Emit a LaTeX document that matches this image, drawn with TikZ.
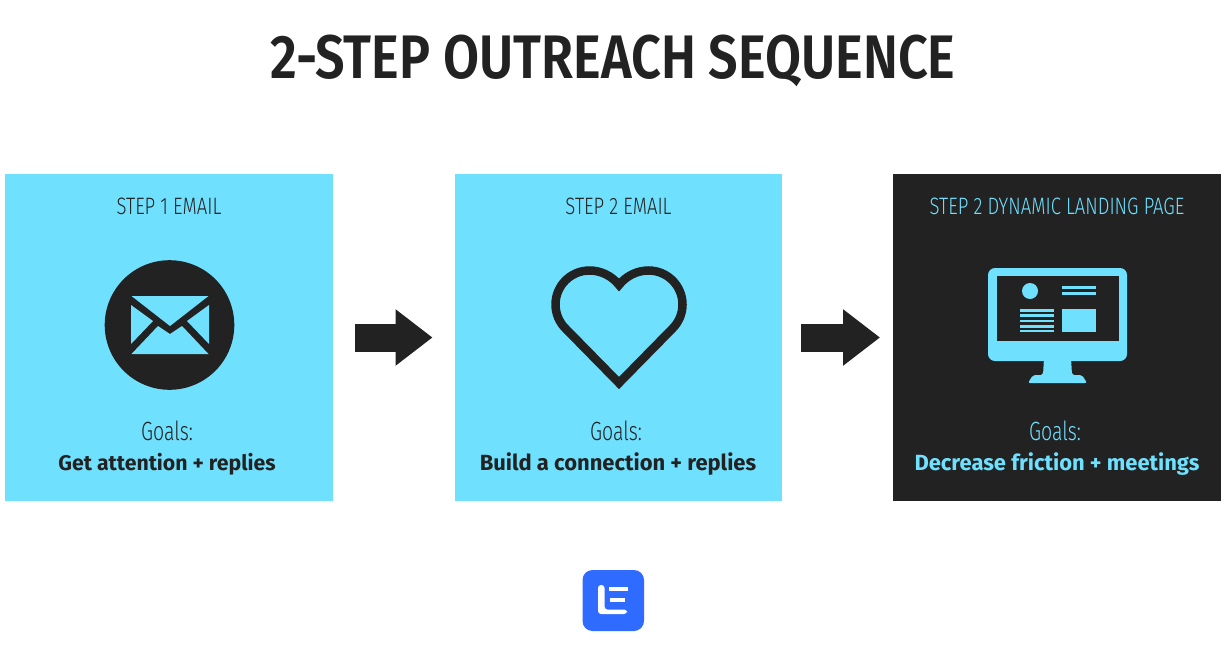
\documentclass[tikz,border=0pt]{standalone}
\usepackage{fontspec}
\setmainfont{Fira Sans}
\newfontfamily\lightfont[FakeStretch=0.78]{Fira Sans Light}
\newfontfamily\goalfont[FakeStretch=0.74]{Fira Sans Light}
\newfontfamily\titlefont[FakeStretch=0.85]{Fira Sans SemiBold}
\usetikzlibrary{arrows.meta,positioning}
\definecolor{skyfill}{HTML}{6FE1FF}
\definecolor{inkdark}{HTML}{222222}
\definecolor{logoblue}{HTML}{2F6BFF}
\tikzset{
	stepbox/.style={minimum size=6.56cm, inner sep=0pt, outer sep=0pt, fill=skyfill, text=inkdark},
	darkbox/.style={stepbox, fill=inkdark, text=skyfill},
	steplabel/.style={font=\lightfont\fontsize{13.5}{16}\selectfont, inner sep=0pt, anchor=center},
	goalhead/.style={font=\goalfont\fontsize{15}{18}\selectfont, inner sep=0pt, anchor=center},
	goallabel/.style={font=\bfseries\fontsize{12.5}{15}\selectfont, inner sep=0pt, anchor=center},
	blockarrow/.style={line width=0.56cm, inkdark, -{Triangle[length=0.74cm, width=1.08cm]}},
}
\begin{document}
\begin{tikzpicture}[x=0.02cm, y=-0.02cm]
	\useasboundingbox (0,0) rectangle (1226,649);

	\node[font=\titlefont\fontsize{35}{40}\selectfont, text=inkdark, inner sep=0pt] (title) at (613,61) {2-STEP OUTREACH SEQUENCE};

	% the three boxes
	\node[stepbox] (emailbox) at (169,337.5) {};
	\node[stepbox] (heartbox) at (618.5,337.5) {};
	\node[darkbox] (pagebox) at (1057,337.5) {};

	\draw[blockarrow, shorten <=0.44cm, shorten >=0.44cm] (emailbox) -- (heartbox);
	\draw[blockarrow, shorten <=0.38cm, shorten >=0.26cm] (heartbox) -- (pagebox);

	\node[steplabel, text=inkdark] (emailstep) at (169,206) {STEP 1 EMAIL};
	\node[steplabel, text=inkdark] (heartstep) at (618.5,206) {STEP 2 EMAIL};
	\node[steplabel, text=skyfill] (pagestep) at (1057,206) {STEP 2 DYNAMIC LANDING PAGE};

	\node[goalhead, text=inkdark] (emailgoal) at (167,431) {Goals:};
	\node[goalhead, text=inkdark] (heartgoal) at (616,431) {Goals:};
	\node[goalhead, text=skyfill] (pagegoal) at (1055,431) {Goals:};

	\node[goallabel, text=inkdark, font=\bfseries\fontsize{12.1}{15}\selectfont] (emailtext) at (167,464) {Get attention + replies};
	\node[goallabel, text=inkdark] (hearttext) at (618,464) {Build a connection + replies};
	\node[goallabel, text=skyfill] (pagetext) at (1057,464) {Decrease friction + meetings};

	% envelope in a disc
	\fill[inkdark] (169.5,325) circle (64.8);
	\fill[skyfill] (131.5,296) -- (208.5,296) -- (170,326) -- cycle;
	\fill[skyfill] (131,305) -- (153,321) -- (131,344) -- cycle;
	\fill[skyfill] (209,305) -- (187,321) -- (209,344) -- cycle;
	\fill[skyfill] (131.5,354) -- (158,326) -- (170,334) -- (182,326) -- (208.5,354) -- cycle;

	% heart outline
	\draw[inkdark, line width=0.17cm, miter limit=10]
		(619,383) -- (565.5,328.5)
		.. controls (559.4,322.4) and (555.5,313.9) .. (555.5,304.5)
		.. controls (555.5,285.7) and (570.7,270.5) .. (589.5,270.5)
		.. controls (601,270.5) and (612,276) .. (619,285)
		.. controls (626,276) and (637,270.5) .. (648.5,270.5)
		.. controls (667.3,270.5) and (682.5,285.7) .. (682.5,304.5)
		.. controls (682.5,313.9) and (678.6,322.4) .. (672.5,328.5)
		-- cycle;

	% monitor
	\fill[skyfill, rounded corners=0.14cm] (988,268) rectangle (1127,361);
	\fill[skyfill, rounded corners=0.04cm] (1044,358) -- (1071,358) -- (1072,375) -- (1082,375) -- (1087,383) -- (1028,383) -- (1033,375) -- (1043,375) -- cycle;
	\fill[inkdark] (997,276) rectangle (1119,341);
	\fill[skyfill] (1030,291) circle (8);
	\fill[skyfill] (1062,286) rectangle (1096,289);
	\fill[skyfill] (1062,292) rectangle (1096,295);
	\foreach \y in {309,314.3,319.7,325,329.5} {
		\fill[skyfill] (1020,\y) rectangle (1054,\y+2.7);
	}
	\fill[skyfill] (1062,309) rectangle (1096,332);

	% logo
	\fill[logoblue, rounded corners=0.2cm] (582.5,570) rectangle (644,631);
	\fill[white, rounded corners=0.06cm] (598,585) -- (604.5,585) -- (604.5,609.5) -- (627,609.5) -- (627,614) -- (598,614) -- cycle;
	\fill[white] (609,587) rectangle (628,591);
	\fill[white] (610,598) rectangle (625,602);
\end{tikzpicture}
\end{document}
